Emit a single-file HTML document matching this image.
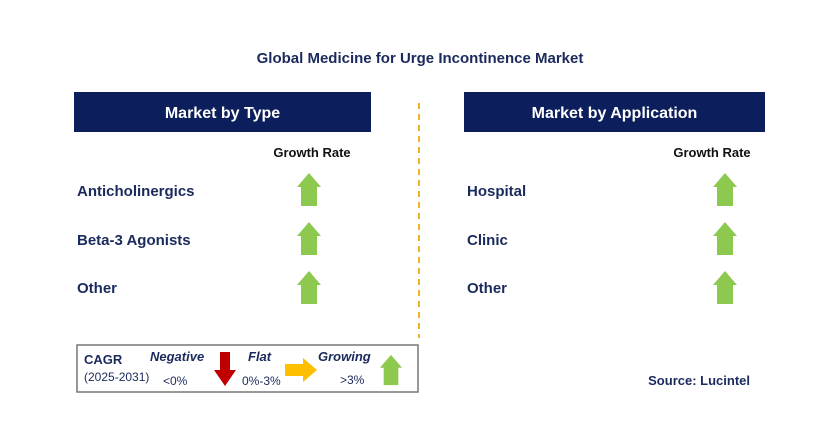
<!DOCTYPE html>
<html><head><meta charset="utf-8"><style>
body{margin:0;background:#fff;}
svg{display:block;font-family:"Liberation Sans",Arial,sans-serif;}
</style></head><body>
<svg width="829" height="425" viewBox="0 0 829 425">
<defs>
<symbol id="up" viewBox="0 0 24 33"><polygon points="12,0 24,14 20,14 20,33 4,33 4,14 0,14" fill="#8dc94e"/></symbol>
</defs>
<text x="420" y="63" text-anchor="middle" font-size="15" font-weight="bold" fill="#1b2a5c">Global Medicine for Urge Incontinence Market</text>

<rect x="74" y="92" width="297" height="40" fill="#0c1f5c"/>
<text x="222.5" y="118" text-anchor="middle" font-size="16" font-weight="bold" fill="#fff">Market by Type</text>
<rect x="464" y="92" width="301" height="40" fill="#0c1f5c"/>
<text x="614.5" y="118" text-anchor="middle" font-size="16" font-weight="bold" fill="#fff">Market by Application</text>

<line x1="419" y1="103" x2="419" y2="338" stroke="#f0b323" stroke-width="2" stroke-dasharray="6,5"/>

<text x="312" y="157" text-anchor="middle" font-size="13" font-weight="bold" fill="#111">Growth Rate</text>
<text x="712" y="157" text-anchor="middle" font-size="13" font-weight="bold" fill="#111">Growth Rate</text>

<g font-size="15" font-weight="bold" fill="#1b2a5c">
<text x="77" y="196">Anticholinergics</text>
<text x="77" y="245">Beta-3 Agonists</text>
<text x="77" y="293">Other</text>
<text x="467" y="196">Hospital</text>
<text x="467" y="245">Clinic</text>
<text x="467" y="293">Other</text>
</g>
<use href="#up" x="297" y="173" width="24" height="33"/>
<use href="#up" x="297" y="222" width="24" height="33"/>
<use href="#up" x="297" y="271" width="24" height="33"/>
<use href="#up" x="713" y="173" width="24" height="33"/>
<use href="#up" x="713" y="222" width="24" height="33"/>
<use href="#up" x="713" y="271" width="24" height="33"/>

<g>
<rect x="77" y="345" width="341" height="47" fill="#fff" stroke="#777" stroke-width="1.5"/>
<text x="84" y="364" font-size="13" font-weight="bold" fill="#1b2a5c">CAGR</text>
<text x="84" y="381" font-size="12" fill="#1b2a5c">(2025-2031)</text>
<text x="150" y="361" font-size="13" font-weight="bold" font-style="italic" fill="#1b2a5c">Negative</text>
<text x="163" y="385" font-size="12" fill="#1b2a5c">&lt;0%</text>
<polygon points="220,352 230,352 230,370 236,370 225,386 214,370 220,370" fill="#c00000"/>
<text x="248" y="361" font-size="13" font-weight="bold" font-style="italic" fill="#1b2a5c">Flat</text>
<text x="242" y="385" font-size="12" fill="#1b2a5c">0%-3%</text>
<polygon points="285,364 303,364 303,358 317,370 303,382 303,376 285,376" fill="#fdbf00"/>
<text x="318" y="361" font-size="13" font-weight="bold" font-style="italic" fill="#1b2a5c">Growing</text>
<text x="340" y="384" font-size="12" fill="#1b2a5c">&gt;3%</text>
<use href="#up" x="380" y="354" width="22" height="32"/>
</g>
<text x="750" y="385" text-anchor="end" font-size="13" font-weight="bold" fill="#1b2a5c">Source: Lucintel</text>
</svg>
</body></html>
